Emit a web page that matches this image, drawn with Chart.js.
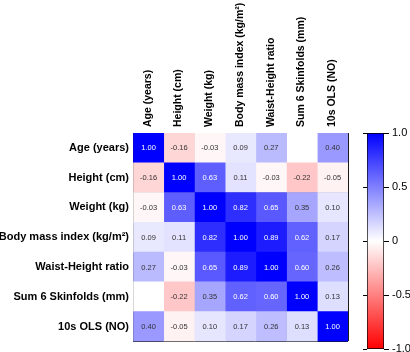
<!DOCTYPE html>
<html>
<head>
<meta charset="utf-8">
<script src="https://cdn.jsdelivr.net/npm/chart.js@4.4.0/dist/chart.umd.min.js"></script>
<style>
  body { margin: 0; background: #fff; }
  #wrap { position: relative; width: 410px; height: 352px; overflow: hidden; }
  canvas { position: absolute; top: 0; }
  #heat { left: 0; }
  #bar  { left: 352px; }
</style>
</head>
<body>
<div id="wrap">
  <canvas id="heat" width="352" height="352"></canvas>
  <canvas id="bar" width="58" height="362"></canvas>
</div>
<script>
/* ── data ── */
const varLabels = [
  'Age (years)', 'Height (cm)', 'Weight (kg)', 'Body mass index (kg/m\u00B2)',
  'Waist-Height ratio', 'Sum 6 Skinfolds (mm)', '10s OLS (NO)'
];

const rowAge    = [ 1.00, -0.16, -0.03, 0.09,  0.27, null,  0.40];
const rowHeight = [-0.16,  1.00,  0.63, 0.11, -0.03, -0.22, -0.05];
const rowWeight = [-0.03,  0.63,  1.00, 0.82,  0.65, 0.35,  0.10];
const rowBmi    = [ 0.09,  0.11,  0.82, 1.00,  0.89, 0.62,  0.17];
const rowWhtr   = [ 0.27, -0.03,  0.65, 0.89,  1.00, 0.60,  0.26];
const rowSkin   = [ null, -0.22,  0.35, 0.62,  0.60, 1.00,  0.13];
const rowOls    = [ 0.40, -0.05,  0.10, 0.17,  0.26, 0.13,  1.00];
const matrix    = [rowAge, rowHeight, rowWeight, rowBmi, rowWhtr, rowSkin, rowOls];

const scaleTicks  = [-1, -0.5, 0, 0.5, 1];
const scaleColors = ['#ff0000', '#ffffff', '#0000ff'];   // -1, 0, +1

Chart.defaults.font.family = "'Liberation Sans', Arial, sans-serif";
Chart.defaults.color = '#000';

/* ── helpers ── */
function cellColor(v) {
  if (v === null) return '#ffffff';
  const t = Math.min(1, Math.abs(v));
  const c = Math.round(255 * (1 - t));
  return v >= 0 ? `rgb(${c},${c},255)` : `rgb(255,${c},${c})`;
}

const cellText = {
  id: 'cellText',
  afterDatasetsDraw(chart) {
    const ctx = chart.ctx;
    ctx.save();
    ctx.font = "7.5px 'Liberation Sans', Arial, sans-serif";
    ctx.textAlign = 'center';
    ctx.textBaseline = 'middle';
    chart.data.datasets.forEach((ds, j) => {
      chart.getDatasetMeta(j).data.forEach((bar, i) => {
        const v = matrix[i][j];
        if (v === null) return;
        const p = bar.getCenterPoint();
        ctx.fillStyle = Math.abs(v) > 0.5 ? '#ffffff' : '#333333';
        ctx.fillText(v.toFixed(2), p.x, p.y + 0.5);
      });
    });
    ctx.restore();
  }
};

/* ── heatmap: one stacked dataset per column ── */
const lineCol = '#1a1a1a';

new Chart(document.getElementById('heat'), {
  type: 'bar',
  data: {
    labels: varLabels,
    datasets: varLabels.map((name, j) => ({
      label: name,
      data: matrix.map(() => 1),
      backgroundColor: matrix.map(row => cellColor(row[j])),
      borderWidth: 0,
      barPercentage: 1,
      categoryPercentage: 1,
    })),
  },
  options: {
    indexAxis: 'y',
    responsive: false,
    animation: false,
    layout: { padding: { right: 4, bottom: 4 } },
    plugins: { legend: { display: false }, tooltip: { enabled: false } },
    scales: {
      x: {
        type: 'linear', min: 0, max: 7, stacked: true, position: 'bottom', z: 1,
        ticks: { display: false, stepSize: 1 },
        grid : { color: lineCol, drawTicks: false },
        border: { display: false },
        afterFit(s) { s.height = 0; },
      },
      top: {
        type: 'category', labels: varLabels, position: 'top', offset: true,
        grid : { display: false, drawTicks: false, tickLength: 0 },
        border: { display: true, color: lineCol },
        ticks: {
          minRotation: 90, maxRotation: 90, autoSkip: false, padding: 6, labelOffset: 12,
          font: { weight: 'bold', size: 10.5 }, color: '#000',
        },
        afterFit(s) { s.height = 133; },
      },
      y: {
        type: 'category', stacked: true, position: 'left', offset: true, z: 1,
        grid : { color: lineCol, drawTicks: false, offset: true },
        border: { color: lineCol },
        ticks: { padding: 4, font: { weight: 'bold', size: 11 }, color: '#000' },
        afterFit(s) { s.width = 133; },
      },
    },
  },
  plugins: [cellText],
});

/* ── colour scale ── */
new Chart(document.getElementById('bar'), {
  type: 'bar',
  data: {
    labels: [''],
    datasets: [{
      data: [[scaleTicks[0], scaleTicks[scaleTicks.length - 1]]],
      backgroundColor(c) {
        const chart = c.chart;
        if (!chart.chartArea) return null;
        const y = chart.scales.y;
        const g = chart.ctx.createLinearGradient(0, y.getPixelForValue(-1), 0, y.getPixelForValue(1));
        g.addColorStop(0, scaleColors[0]);
        g.addColorStop(0.5, scaleColors[1]);
        g.addColorStop(1, scaleColors[2]);
        return g;
      },
      borderColor: '#000',
      borderWidth: 1,
      borderSkipped: false,
      barPercentage: 1,
      categoryPercentage: 1,
    }],
  },
  options: {
    responsive: false,
    animation: false,
    layout: { padding: { left: 11, top: 133, bottom: 13 } },
    plugins: { legend: { display: false }, tooltip: { enabled: false } },
    scales: {
      x: { display: false },
      y: {
        position: 'right', min: -1, max: 1,
        afterBuildTicks(s) { s.ticks = scaleTicks.map(v => ({ value: v })); },
        ticks: {
          callback: v => (v === 0 ? '0' : v.toFixed(1)),
          color: '#000', font: { size: 11 }, padding: 3,
        },
        grid: { drawOnChartArea: false, tickLength: 5, color: '#000' },
        border: { display: false },
        afterFit(s) { s.width = 26; },
      },
      yl: {
        position: 'left', min: -1, max: 1,
        afterBuildTicks(s) { s.ticks = scaleTicks.map(v => ({ value: v })); },
        ticks: { display: false },
        grid: { drawOnChartArea: false, tickLength: 4, color: '#000' },
        border: { display: false },
      },
    },
  },
});
</script>
</body>
</html>
